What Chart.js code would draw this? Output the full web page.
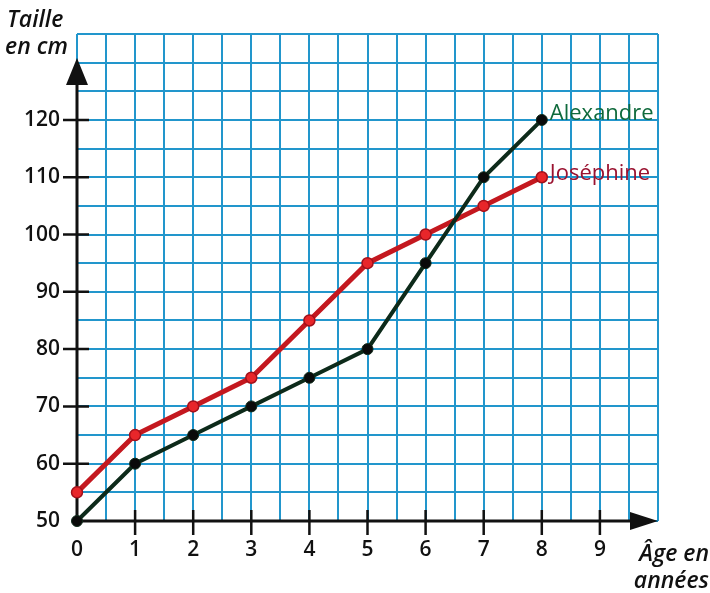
<!DOCTYPE html>
<html>
<head>
<meta charset="utf-8">
<script src="https://cdn.jsdelivr.net/npm/chart.js@4.4.1/dist/chart.umd.min.js"></script>
<style>
  html, body { margin: 0; padding: 0; background: #fff; }
  #wrap { position: relative; width: 710px; height: 593px; }
</style>
</head>
<body>
<div id="wrap"><canvas id="c"></canvas></div>
<script>
  // âge en années (axe x) et tailles en cm
  var AGES = [0, 1, 2, 3, 4, 5, 6, 7, 8];
  var ALEXANDRE = [50, 60, 65, 70, 75, 80, 95, 110, 120];
  var JOSEPHINE = [55, 65, 70, 75, 85, 95, 100, 105, 110];
  var SERIES_NAMES = ["Alexandre", "Joséphine"];
  var X_TICK_LABELS = [0, 1, 2, 3, 4, 5, 6, 7, 8, 9];
  var Y_TICK_LABELS = [50, 60, 70, 80, 90, 100, 110, 120];

  var FONT = '"Open Sans", "Noto Sans", sans-serif';
  var GREEN_TXT = "#0f6a3c", RED_TXT = "#9a1230";

  function pts(values) {
    return AGES.map(function (a, i) { return { x: a, y: values[i] }; });
  }

  // axes noirs avec flèches, petites graduations, titres et noms des courbes
  var decor = {
    id: "decor",
    beforeDatasetsDraw: function (chart) {
      var ctx = chart.ctx, xs = chart.scales.x, ys = chart.scales.y;
      var x0 = xs.getPixelForValue(0), y0 = ys.getPixelForValue(50);
      var yTip = ys.getPixelForValue(130.8), xTip = xs.getPixelForValue(10);
      ctx.save();
      ctx.strokeStyle = "#111";
      ctx.fillStyle = "#111";
      ctx.lineWidth = 3;
      ctx.beginPath();
      ctx.moveTo(x0, y0); ctx.lineTo(x0, yTip + 20);
      ctx.moveTo(x0, y0); ctx.lineTo(xTip - 22, y0);
      ctx.stroke();
      // flèche verticale
      ctx.beginPath();
      ctx.moveTo(x0, yTip); ctx.lineTo(x0 - 11, yTip + 27); ctx.lineTo(x0 + 11, yTip + 27); ctx.closePath();
      ctx.fill();
      // flèche horizontale
      ctx.beginPath();
      ctx.moveTo(xTip, y0); ctx.lineTo(xTip - 28, y0 - 9); ctx.lineTo(xTip - 28, y0 + 9); ctx.closePath();
      ctx.fill();
      // graduations
      ctx.lineWidth = 2.5;
      ctx.beginPath();
      Y_TICK_LABELS.forEach(function (v) {
        if (v === 50) return;
        var y = ys.getPixelForValue(v);
        ctx.moveTo(x0 - 14, y); ctx.lineTo(x0 + 12, y);
      });
      X_TICK_LABELS.forEach(function (v) {
        if (v === 0) return;
        var x = xs.getPixelForValue(v);
        ctx.moveTo(x, y0 - 11); ctx.lineTo(x, y0 + 14);
      });
      ctx.stroke();
      ctx.restore();
    },
    afterDraw: function (chart) {
      var ctx = chart.ctx;
      ctx.save();
      ctx.font = "italic 600 23px " + FONT;
      ctx.fillStyle = "#111";
      ctx.textAlign = "left";
      ctx.textBaseline = "alphabetic";
      ctx.fillText("Taille", 7, 27);
      ctx.fillText("en cm", 5, 54);
      ctx.textAlign = "right";
      ctx.fillText("Âge en", 709, 561);
      ctx.fillText("années", 709, 588);

      ctx.font = "22px " + FONT;
      ctx.textAlign = "left";
      ctx.textBaseline = "middle";
      var colors = [GREEN_TXT, RED_TXT];
      chart.data.datasets.forEach(function (ds, i) {
        var meta = chart.getDatasetMeta(i);
        var last = meta.data[meta.data.length - 1];
        ctx.fillStyle = colors[i];
        ctx.fillText(SERIES_NAMES[i], last.x + 8, last.y - (i === 0 ? 6 : 4));
      });
      ctx.restore();
    }
  };

  new Chart(document.getElementById("c"), {
    type: "line",
    data: {
      datasets: [
        {
          label: SERIES_NAMES[0],
          data: pts(ALEXANDRE),
          borderColor: "#0d2a1a",
          borderWidth: 4,
          pointRadius: 5.5,
          pointBackgroundColor: "#0a0a0a",
          pointBorderColor: "#0d2a1a",
          pointBorderWidth: 1,
          tension: 0,
          clip: false,
          order: 1
        },
        {
          label: SERIES_NAMES[1],
          data: pts(JOSEPHINE),
          borderColor: "#c4181f",
          borderWidth: 5,
          pointRadius: 5.5,
          pointBackgroundColor: "#e8262a",
          pointBorderColor: "#a3101a",
          pointBorderWidth: 1.5,
          tension: 0,
          clip: false,
          order: 2
        }
      ]
    },
    options: {
      responsive: true,
      maintainAspectRatio: false,
      animation: false,
      layout: { padding: { top: 34, right: 52, left: 0, bottom: 0 } },
      plugins: { legend: { display: false }, tooltip: { enabled: false } },
      scales: {
        x: {
          type: "linear",
          min: 0, max: 10,
          border: { display: false },
          grid: { color: "#2296cc", lineWidth: 2, drawTicks: false },
          ticks: {
            stepSize: 0.5, maxTicksLimit: 100, autoSkip: false, maxRotation: 0, padding: 16,
            color: "#111", font: { family: FONT, size: 21, weight: "600" },
            callback: function (v) { return X_TICK_LABELS.indexOf(v) >= 0 ? String(v) : ""; }
          },
          afterFit: function (s) { s.height = 72; }
        },
        y: {
          type: "linear",
          min: 50, max: 135,
          border: { display: false },
          grid: { color: "#2296cc", lineWidth: 2, drawTicks: false },
          ticks: {
            stepSize: 5, maxTicksLimit: 100, autoSkip: false, padding: 17,
            color: "#111", font: { family: FONT, size: 21, weight: "600" },
            callback: function (v) { return Y_TICK_LABELS.indexOf(v) >= 0 ? String(v) : ""; }
          },
          afterFit: function (s) { s.width = 77; }
        }
      }
    },
    plugins: [decor]
  });
</script>
</body>
</html>
